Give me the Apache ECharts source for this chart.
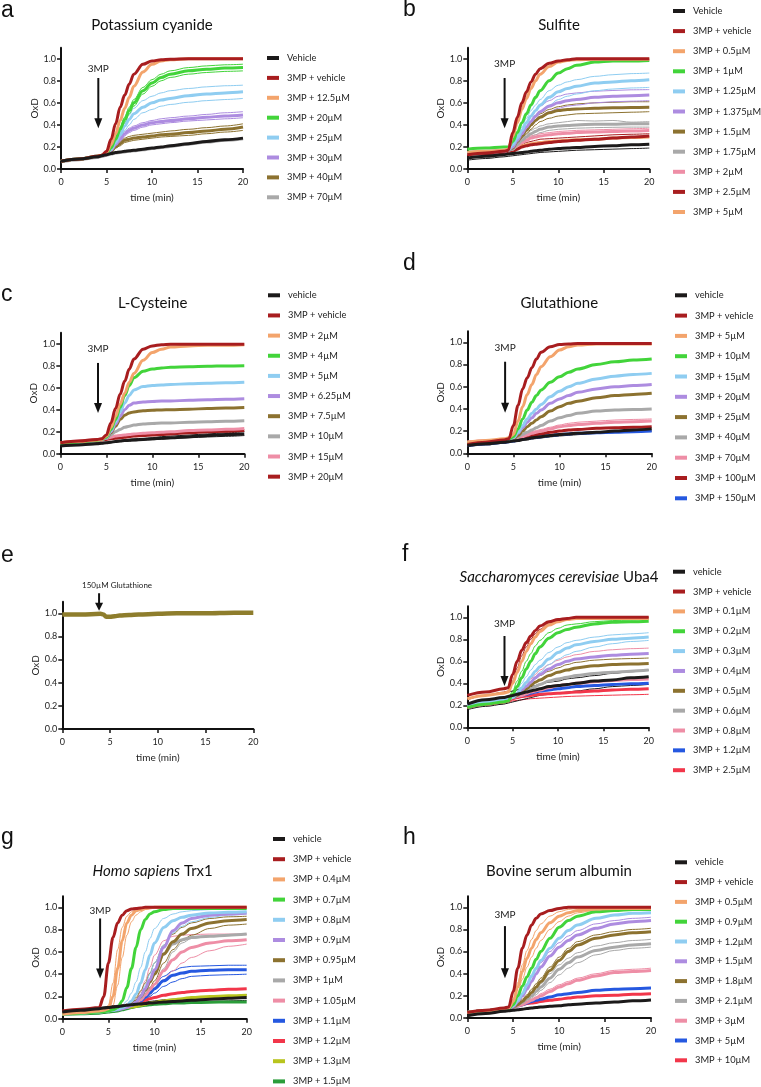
<!DOCTYPE html>
<html><head><meta charset="utf-8">
<script src="https://cdn.jsdelivr.net/npm/echarts@6/dist/echarts.min.js"></script>
<style>html,body{margin:0;padding:0;background:#fff}#c{width:761px;height:1087px}</style>
</head><body><div id="c"></div><script>
// ---------- time grids and ticks ----------
const T  = [0,2,4,4.5,5,5.5,6,6.5,7,7.5,8,9,10,11,12,14,16,18,20];
const TG = [0,2,4,4.5,5,5.5,6,6.5,7,7.5,8,8.5,9,9.5,10,11,12,13,14,16,18,20];
const TE = [0,2,4,4.3,4.6,5,5.5,6,7,8,10,12,15,18,20];
const X_TICKS = [0,5,10,15,20];
const Y_TICKS = [0,0.2,0.4,0.6,0.8,1.0];

// ---------- colours ----------
const BLK='#1c1a1a', DRED='#a81d1f', SALMON='#f3a46c', GREEN='#42d43a', LBLUE='#8fcdf1',
      PURPLE='#ad8ce0', BROWN='#8c7230', GREY='#a9a9a9', PINK='#ee8ea6', BLUE='#2558e0',
      RED='#f2364a', YGREEN='#b8c41e', DGREEN='#2b9d3a', EBROWN='#8e7d2c';

// ---------- a: Potassium cyanide ----------
const A_VEH=[0.07,0.09,0.11,0.12,0.13,0.14,0.15,0.155,0.16,0.165,0.17,0.18,0.19,0.2,0.21,0.23,0.25,0.265,0.28];
const A_70=[0.065,0.085,0.105,0.115,0.125,0.135,0.145,0.15,0.155,0.16,0.165,0.175,0.185,0.195,0.205,0.225,0.245,0.26,0.275];
const A_V3=[0.07,0.09,0.115,0.125,0.16,0.27,0.41,0.56,0.67,0.77,0.86,0.95,0.98,0.99,0.995,1,1,1,1];
const A_125=[0.07,0.09,0.115,0.125,0.15,0.22,0.32,0.44,0.55,0.65,0.75,0.88,0.95,0.98,0.99,1,1,1,1];
const A_20=[0.07,0.09,0.115,0.125,0.14,0.19,0.27,0.36,0.45,0.53,0.6,0.71,0.78,0.83,0.86,0.89,0.905,0.915,0.92];
const A_20_HI=[0.07,0.09,0.115,0.125,0.145,0.2,0.29,0.38,0.47,0.56,0.63,0.74,0.81,0.86,0.89,0.92,0.935,0.945,0.95];
const A_20_LO=[0.07,0.09,0.115,0.125,0.135,0.18,0.25,0.33,0.42,0.5,0.57,0.68,0.75,0.8,0.83,0.86,0.875,0.885,0.89];
const A_25=[0.07,0.09,0.115,0.125,0.14,0.18,0.24,0.31,0.39,0.45,0.5,0.56,0.6,0.625,0.64,0.665,0.68,0.69,0.7];
const A_25_HI=[0.07,0.09,0.115,0.125,0.14,0.19,0.26,0.34,0.42,0.49,0.55,0.62,0.66,0.69,0.71,0.73,0.745,0.755,0.76];
const A_25_LO=[0.07,0.09,0.115,0.125,0.135,0.17,0.22,0.28,0.35,0.4,0.45,0.51,0.54,0.57,0.585,0.605,0.62,0.63,0.64];
const A_30=[0.07,0.09,0.115,0.125,0.13,0.17,0.22,0.27,0.32,0.35,0.37,0.4,0.42,0.43,0.44,0.455,0.47,0.48,0.49];
const A_30_HI=[0.07,0.09,0.115,0.125,0.135,0.18,0.24,0.29,0.34,0.37,0.39,0.42,0.44,0.455,0.465,0.48,0.495,0.51,0.52];
const A_30_LO=[0.07,0.09,0.115,0.125,0.13,0.16,0.21,0.25,0.3,0.33,0.35,0.38,0.4,0.41,0.42,0.435,0.445,0.455,0.465];
const A_40=[0.07,0.09,0.115,0.125,0.13,0.16,0.2,0.23,0.26,0.27,0.28,0.29,0.3,0.31,0.315,0.33,0.345,0.36,0.38];
const A_40_HI=[0.07,0.09,0.115,0.125,0.13,0.17,0.21,0.25,0.28,0.295,0.305,0.315,0.325,0.335,0.345,0.36,0.375,0.39,0.41];
const A_40_LO=[0.07,0.09,0.115,0.125,0.13,0.15,0.19,0.21,0.24,0.25,0.26,0.27,0.28,0.29,0.295,0.305,0.32,0.335,0.35];

// ---------- b: Sulfite ----------
const B_VEH=[0.1,0.115,0.13,0.135,0.14,0.145,0.15,0.155,0.16,0.165,0.17,0.18,0.185,0.19,0.195,0.205,0.21,0.22,0.225];
const B_VEH_LO=[0.08,0.095,0.11,0.115,0.12,0.125,0.13,0.135,0.14,0.145,0.15,0.155,0.16,0.165,0.17,0.175,0.18,0.185,0.19];
const B_V3=[0.13,0.145,0.16,0.17,0.33,0.47,0.6,0.7,0.79,0.86,0.91,0.96,0.98,0.99,1,1,1,1,1];
const B_05=[0.15,0.16,0.17,0.18,0.3,0.42,0.54,0.64,0.73,0.8,0.86,0.93,0.97,0.985,0.99,0.995,0.995,0.995,0.995];
const B_1=[0.18,0.19,0.2,0.2,0.25,0.33,0.42,0.5,0.58,0.65,0.71,0.8,0.87,0.91,0.94,0.97,0.98,0.98,0.985];
const B_125=[0.15,0.16,0.17,0.17,0.22,0.28,0.35,0.42,0.48,0.53,0.58,0.65,0.7,0.73,0.75,0.78,0.79,0.8,0.81];
const B_125_HI=[0.15,0.16,0.17,0.17,0.23,0.3,0.38,0.46,0.53,0.58,0.63,0.71,0.76,0.79,0.81,0.84,0.855,0.865,0.87];
const B_125_LO=[0.15,0.16,0.17,0.17,0.21,0.26,0.32,0.38,0.43,0.48,0.52,0.58,0.63,0.66,0.68,0.71,0.725,0.735,0.74];
const B_1375=[0.14,0.15,0.16,0.17,0.2,0.26,0.32,0.38,0.43,0.48,0.52,0.57,0.6,0.62,0.63,0.65,0.66,0.665,0.67];
const B_1375_HI=[0.14,0.15,0.16,0.17,0.21,0.28,0.35,0.42,0.48,0.53,0.57,0.62,0.66,0.68,0.69,0.705,0.712,0.718,0.72];
const B_1375_LO=[0.14,0.15,0.16,0.17,0.19,0.24,0.3,0.35,0.4,0.44,0.48,0.52,0.55,0.57,0.58,0.6,0.61,0.615,0.62];
const B_15=[0.14,0.15,0.16,0.17,0.19,0.25,0.3,0.35,0.4,0.44,0.47,0.51,0.53,0.54,0.545,0.55,0.555,0.558,0.56];
const B_15_HI=[0.14,0.15,0.16,0.17,0.2,0.26,0.32,0.38,0.43,0.47,0.5,0.54,0.565,0.58,0.59,0.6,0.605,0.61,0.61];
const B_15_LO=[0.14,0.15,0.16,0.17,0.18,0.23,0.28,0.32,0.36,0.4,0.43,0.46,0.48,0.49,0.5,0.505,0.51,0.515,0.52];
const B_175=[0.14,0.15,0.16,0.17,0.18,0.22,0.26,0.29,0.32,0.34,0.36,0.38,0.39,0.395,0.4,0.405,0.405,0.41,0.41];
const B_175_HI=[0.14,0.15,0.16,0.17,0.19,0.23,0.28,0.31,0.35,0.37,0.39,0.41,0.42,0.43,0.44,0.435,0.44,0.425,0.43];
const B_175_LO=[0.14,0.15,0.16,0.17,0.17,0.2,0.23,0.26,0.29,0.31,0.33,0.35,0.36,0.365,0.37,0.375,0.378,0.38,0.38];
const B_2=[0.14,0.15,0.16,0.17,0.18,0.21,0.24,0.26,0.28,0.29,0.3,0.31,0.32,0.325,0.33,0.335,0.34,0.345,0.35];
const B_2_HI=[0.14,0.15,0.16,0.17,0.18,0.22,0.26,0.28,0.3,0.31,0.32,0.33,0.34,0.345,0.35,0.355,0.36,0.365,0.37];
const B_25=[0.13,0.14,0.15,0.16,0.16,0.18,0.2,0.21,0.22,0.225,0.23,0.24,0.25,0.255,0.26,0.27,0.28,0.29,0.3];
const B_25_HI=[0.13,0.14,0.15,0.16,0.17,0.2,0.22,0.24,0.25,0.26,0.27,0.275,0.28,0.285,0.29,0.3,0.31,0.315,0.32];
const B_5=[0.14,0.15,0.16,0.17,0.17,0.19,0.21,0.22,0.23,0.235,0.24,0.25,0.255,0.26,0.265,0.27,0.28,0.285,0.29];

// ---------- c: L-Cysteine ----------
const C_VEH=[0.07,0.08,0.09,0.095,0.1,0.105,0.11,0.115,0.12,0.122,0.125,0.13,0.135,0.14,0.145,0.155,0.165,0.175,0.18];
const C_VEH_HI=[0.08,0.09,0.1,0.1,0.105,0.11,0.115,0.12,0.125,0.13,0.135,0.14,0.145,0.155,0.16,0.17,0.18,0.19,0.2];
const C_VEH_LO=[0.065,0.075,0.085,0.09,0.095,0.1,0.105,0.11,0.112,0.115,0.118,0.122,0.127,0.132,0.137,0.145,0.152,0.158,0.165];
const C_V3=[0.1,0.115,0.13,0.135,0.17,0.28,0.41,0.54,0.66,0.77,0.86,0.95,0.98,0.99,0.995,0.995,0.995,0.995,0.995];
const C_2=[0.1,0.11,0.125,0.13,0.16,0.24,0.34,0.45,0.55,0.65,0.73,0.85,0.92,0.95,0.97,0.98,0.985,0.985,0.99];
const C_4=[0.09,0.105,0.12,0.13,0.15,0.22,0.31,0.42,0.53,0.62,0.69,0.75,0.77,0.78,0.785,0.79,0.795,0.798,0.8];
const C_5=[0.09,0.105,0.12,0.13,0.15,0.21,0.29,0.38,0.46,0.53,0.58,0.61,0.62,0.625,0.63,0.635,0.64,0.645,0.65];
const C_625=[0.09,0.105,0.12,0.13,0.14,0.2,0.27,0.34,0.4,0.44,0.46,0.47,0.475,0.478,0.48,0.485,0.49,0.495,0.5];
const C_75=[0.09,0.105,0.12,0.13,0.14,0.19,0.25,0.31,0.35,0.37,0.38,0.39,0.395,0.398,0.4,0.405,0.41,0.415,0.42];
const C_10=[0.09,0.105,0.12,0.13,0.14,0.17,0.2,0.22,0.24,0.25,0.26,0.27,0.275,0.278,0.28,0.285,0.29,0.295,0.3];
const C_15=[0.1,0.115,0.13,0.135,0.14,0.15,0.16,0.165,0.17,0.175,0.18,0.185,0.19,0.195,0.2,0.21,0.215,0.222,0.23];
const C_20=[0.095,0.11,0.12,0.125,0.13,0.135,0.14,0.145,0.15,0.155,0.16,0.165,0.17,0.175,0.18,0.19,0.2,0.205,0.21];

// ---------- d: Glutathione ----------
const D_VEH=[0.07,0.085,0.1,0.105,0.11,0.115,0.125,0.13,0.14,0.145,0.15,0.16,0.17,0.175,0.18,0.19,0.2,0.21,0.22];
const D_VEH_LO=[0.06,0.075,0.09,0.1,0.105,0.11,0.115,0.12,0.128,0.133,0.138,0.148,0.156,0.162,0.168,0.178,0.186,0.193,0.2];
const D_V3=[0.08,0.1,0.12,0.13,0.25,0.43,0.58,0.68,0.77,0.85,0.91,0.96,0.98,0.985,0.99,0.99,0.99,0.99,0.99];
const D_5=[0.1,0.115,0.13,0.14,0.17,0.29,0.42,0.53,0.62,0.71,0.78,0.87,0.93,0.96,0.975,0.985,0.985,0.985,0.985];
const D_10=[0.09,0.105,0.12,0.13,0.15,0.22,0.31,0.39,0.46,0.52,0.57,0.64,0.69,0.73,0.76,0.8,0.825,0.84,0.85];
const D_15=[0.09,0.105,0.12,0.13,0.14,0.19,0.25,0.31,0.36,0.4,0.44,0.51,0.56,0.6,0.63,0.67,0.695,0.71,0.72];
const D_20=[0.09,0.105,0.12,0.13,0.14,0.18,0.23,0.28,0.32,0.36,0.39,0.45,0.49,0.52,0.55,0.58,0.6,0.61,0.62];
const D_25=[0.09,0.105,0.12,0.13,0.13,0.16,0.2,0.24,0.27,0.3,0.33,0.38,0.42,0.45,0.47,0.5,0.52,0.53,0.54];
const D_40=[0.09,0.105,0.12,0.125,0.13,0.15,0.17,0.19,0.21,0.23,0.25,0.29,0.32,0.34,0.36,0.38,0.39,0.395,0.4];
const D_70=[0.1,0.11,0.12,0.125,0.13,0.14,0.15,0.165,0.18,0.19,0.2,0.22,0.24,0.25,0.26,0.27,0.28,0.285,0.29];
const D_70_HI=[0.11,0.12,0.13,0.135,0.14,0.15,0.165,0.18,0.195,0.205,0.215,0.235,0.255,0.27,0.28,0.29,0.3,0.305,0.31];
const D_100=[0.08,0.095,0.11,0.115,0.12,0.13,0.14,0.15,0.16,0.17,0.175,0.19,0.2,0.21,0.215,0.225,0.23,0.235,0.24];
const D_150=[0.07,0.085,0.1,0.105,0.11,0.12,0.13,0.135,0.14,0.145,0.15,0.16,0.17,0.175,0.18,0.185,0.19,0.195,0.2];

// ---------- e: enzyme + 150 µM glutathione ----------
const E_VAL=[0.99,0.99,0.995,0.99,0.97,0.97,0.975,0.98,0.985,0.99,0.995,1,1,1.005,1.005];

// ---------- f: Saccharomyces cerevisiae Uba4 ----------
const F_VEH=[0.21,0.25,0.27,0.28,0.29,0.3,0.31,0.32,0.33,0.34,0.35,0.37,0.38,0.39,0.4,0.42,0.43,0.45,0.46];
const F_VEH_HI=[0.25,0.29,0.31,0.32,0.33,0.34,0.35,0.36,0.37,0.38,0.39,0.41,0.42,0.44,0.45,0.47,0.49,0.505,0.52];
const F_VEH_LO=[0.16,0.19,0.21,0.22,0.23,0.24,0.25,0.26,0.27,0.28,0.29,0.3,0.31,0.32,0.33,0.35,0.37,0.38,0.39];
const F_V3=[0.29,0.32,0.35,0.36,0.48,0.6,0.7,0.77,0.83,0.88,0.92,0.96,0.98,0.99,1,1,1,1,1];
const F_V3_LO=[0.26,0.29,0.32,0.33,0.42,0.54,0.65,0.73,0.8,0.85,0.89,0.95,0.97,0.98,0.99,0.995,1,1,1];
const F_01=[0.26,0.29,0.31,0.32,0.4,0.5,0.6,0.69,0.76,0.82,0.87,0.93,0.96,0.98,0.99,0.99,0.99,0.99,0.99];
const F_02=[0.18,0.21,0.23,0.24,0.3,0.37,0.45,0.53,0.6,0.67,0.73,0.81,0.86,0.89,0.91,0.94,0.955,0.96,0.965];
const F_02_HI=[0.2,0.23,0.25,0.26,0.33,0.42,0.51,0.6,0.67,0.74,0.79,0.86,0.9,0.93,0.94,0.96,0.97,0.975,0.98];
const F_03=[0.2,0.23,0.25,0.26,0.27,0.31,0.36,0.41,0.46,0.51,0.55,0.62,0.68,0.72,0.75,0.78,0.8,0.81,0.82];
const F_03_HI=[0.21,0.24,0.26,0.27,0.29,0.34,0.4,0.46,0.52,0.57,0.61,0.68,0.73,0.77,0.79,0.82,0.84,0.85,0.86];
const F_03_LO=[0.2,0.23,0.25,0.26,0.27,0.3,0.34,0.38,0.42,0.46,0.5,0.57,0.62,0.66,0.69,0.73,0.76,0.78,0.79];
const F_04=[0.2,0.23,0.25,0.26,0.27,0.3,0.34,0.37,0.41,0.45,0.48,0.53,0.57,0.6,0.62,0.64,0.655,0.665,0.67];
const F_05=[0.2,0.23,0.25,0.26,0.27,0.29,0.32,0.35,0.38,0.41,0.43,0.47,0.5,0.52,0.54,0.56,0.57,0.575,0.58];
const F_05_HI=[0.21,0.24,0.26,0.27,0.28,0.31,0.34,0.38,0.41,0.44,0.47,0.51,0.54,0.57,0.59,0.61,0.62,0.625,0.63];
const F_06=[0.2,0.23,0.25,0.26,0.28,0.3,0.31,0.33,0.35,0.37,0.39,0.42,0.44,0.455,0.47,0.49,0.5,0.51,0.52];
const F_08=[0.2,0.23,0.25,0.26,0.27,0.28,0.29,0.305,0.32,0.33,0.34,0.36,0.38,0.39,0.4,0.415,0.425,0.435,0.44];
const F_08_HI=[0.2,0.23,0.25,0.26,0.28,0.32,0.36,0.4,0.44,0.48,0.52,0.57,0.61,0.64,0.66,0.69,0.705,0.715,0.72];
const F_12=[0.2,0.23,0.25,0.26,0.27,0.28,0.29,0.3,0.31,0.32,0.33,0.34,0.35,0.36,0.37,0.38,0.39,0.395,0.4];
const F_25=[0.18,0.21,0.23,0.24,0.26,0.27,0.28,0.285,0.29,0.295,0.3,0.305,0.31,0.315,0.32,0.33,0.34,0.345,0.35];
const F_25_LO=[0.17,0.2,0.22,0.23,0.24,0.245,0.25,0.255,0.26,0.262,0.265,0.27,0.275,0.28,0.283,0.288,0.292,0.296,0.3];

// ---------- g: Homo sapiens Trx1 (times TG) ----------
const G_VEH=[0.06,0.075,0.09,0.095,0.1,0.105,0.11,0.115,0.12,0.125,0.13,0.133,0.136,0.14,0.143,0.15,0.155,0.16,0.165,0.175,0.183,0.19];
const G_VEH_HI=[0.07,0.085,0.1,0.105,0.11,0.115,0.12,0.125,0.13,0.135,0.14,0.145,0.15,0.155,0.16,0.17,0.175,0.18,0.185,0.195,0.205,0.215];
const G_VEH_LO=[0.05,0.065,0.08,0.085,0.09,0.095,0.1,0.105,0.11,0.115,0.12,0.123,0.126,0.13,0.133,0.138,0.142,0.146,0.15,0.155,0.16,0.165];
const G_V3=[0.07,0.085,0.1,0.2,0.5,0.73,0.86,0.93,0.97,0.985,0.99,0.995,1,1,1,1,1,1,1,1,1,1];
const G_04=[0.04,0.055,0.07,0.075,0.09,0.2,0.45,0.7,0.86,0.93,0.97,0.98,0.99,0.995,1,1,1,1,1,1,1,1];
const G_04_HI=[0.05,0.065,0.08,0.085,0.12,0.32,0.62,0.82,0.92,0.96,0.98,0.99,1,1,1,1,1,1,1,1,1,1];
const G_04_LO=[0.04,0.055,0.07,0.075,0.08,0.12,0.3,0.55,0.75,0.87,0.93,0.96,0.98,0.99,0.995,1,1,1,1,1,1,1];
const G_07=[0.04,0.05,0.06,0.065,0.07,0.08,0.1,0.16,0.28,0.45,0.64,0.8,0.89,0.94,0.96,0.98,0.99,0.99,0.99,0.99,0.99,0.99];
const G_08=[0.04,0.05,0.06,0.065,0.07,0.075,0.085,0.1,0.12,0.16,0.22,0.32,0.44,0.57,0.68,0.82,0.88,0.91,0.93,0.95,0.955,0.96];
const G_08_HI=[0.04,0.05,0.06,0.065,0.07,0.08,0.095,0.12,0.16,0.23,0.33,0.46,0.6,0.72,0.81,0.9,0.94,0.96,0.97,0.98,0.985,0.99];
const G_08_LO=[0.04,0.05,0.06,0.065,0.07,0.075,0.08,0.09,0.1,0.12,0.16,0.22,0.3,0.4,0.5,0.66,0.77,0.83,0.87,0.91,0.93,0.94];
const G_09=[0.04,0.05,0.06,0.065,0.07,0.075,0.08,0.09,0.1,0.12,0.15,0.2,0.27,0.35,0.44,0.64,0.79,0.86,0.9,0.93,0.94,0.95];
const G_095=[0.05,0.06,0.07,0.075,0.08,0.085,0.09,0.1,0.11,0.13,0.16,0.2,0.26,0.33,0.4,0.58,0.69,0.76,0.81,0.86,0.88,0.89];
const G_095_HI=[0.05,0.06,0.07,0.075,0.08,0.085,0.09,0.1,0.12,0.15,0.19,0.25,0.32,0.41,0.5,0.66,0.76,0.82,0.86,0.9,0.915,0.92];
const G_095_LO=[0.05,0.06,0.07,0.075,0.08,0.085,0.09,0.1,0.11,0.12,0.14,0.17,0.22,0.28,0.34,0.5,0.62,0.7,0.75,0.81,0.84,0.85];
const G_1=[0.05,0.06,0.07,0.075,0.08,0.085,0.09,0.1,0.11,0.12,0.15,0.19,0.25,0.33,0.42,0.58,0.67,0.71,0.73,0.74,0.75,0.76];
const G_1_LO=[0.05,0.06,0.07,0.075,0.08,0.085,0.09,0.095,0.1,0.11,0.12,0.14,0.17,0.21,0.27,0.45,0.6,0.68,0.72,0.74,0.75,0.755];
const G_105=[0.05,0.06,0.07,0.075,0.08,0.085,0.09,0.1,0.11,0.12,0.14,0.17,0.21,0.26,0.31,0.43,0.53,0.6,0.64,0.68,0.7,0.71];
const G_105_HI=[0.05,0.06,0.07,0.075,0.08,0.085,0.09,0.1,0.11,0.13,0.17,0.24,0.34,0.46,0.57,0.7,0.74,0.75,0.755,0.76,0.76,0.76];
const G_105_LO=[0.05,0.06,0.07,0.075,0.08,0.085,0.09,0.095,0.1,0.11,0.13,0.15,0.18,0.22,0.26,0.35,0.43,0.5,0.55,0.61,0.65,0.67];
const G_11=[0.05,0.06,0.07,0.075,0.08,0.085,0.09,0.1,0.11,0.12,0.14,0.16,0.19,0.23,0.27,0.34,0.39,0.41,0.425,0.435,0.44,0.44];
const G_11_HI=[0.05,0.06,0.07,0.075,0.08,0.085,0.09,0.1,0.11,0.13,0.15,0.18,0.22,0.27,0.31,0.38,0.43,0.46,0.47,0.475,0.48,0.48];
const G_11_LO=[0.05,0.06,0.07,0.075,0.08,0.085,0.09,0.1,0.11,0.12,0.13,0.15,0.17,0.2,0.23,0.29,0.33,0.36,0.38,0.39,0.395,0.4];
const G_12=[0.06,0.07,0.08,0.085,0.09,0.1,0.105,0.11,0.12,0.13,0.14,0.15,0.165,0.18,0.19,0.21,0.225,0.235,0.245,0.255,0.265,0.27];
const G_13=[0.05,0.06,0.07,0.075,0.08,0.085,0.09,0.095,0.1,0.105,0.11,0.12,0.13,0.14,0.145,0.16,0.17,0.18,0.19,0.2,0.205,0.21];
const G_15=[0.04,0.045,0.05,0.055,0.06,0.065,0.07,0.08,0.09,0.1,0.11,0.115,0.12,0.125,0.13,0.135,0.14,0.142,0.145,0.148,0.15,0.15];

// ---------- h: Bovine serum albumin ----------
const H_VEH=[0.02,0.04,0.06,0.065,0.07,0.075,0.08,0.085,0.09,0.095,0.1,0.105,0.11,0.12,0.125,0.135,0.145,0.155,0.163];
const H_V3=[0.05,0.07,0.09,0.1,0.24,0.45,0.63,0.75,0.84,0.9,0.94,0.97,0.99,1,1,1,1,1,1];
const H_05=[0.05,0.065,0.08,0.09,0.15,0.28,0.42,0.54,0.63,0.71,0.77,0.86,0.92,0.95,0.97,0.985,0.99,0.99,0.99];
const H_05_HI=[0.05,0.065,0.08,0.09,0.17,0.32,0.48,0.61,0.71,0.79,0.85,0.92,0.96,0.98,0.99,0.99,0.99,0.99,0.99];
const H_05_LO=[0.05,0.065,0.08,0.09,0.13,0.23,0.35,0.46,0.55,0.63,0.7,0.8,0.87,0.92,0.95,0.975,0.985,0.99,0.99];
const H_09=[0.05,0.065,0.08,0.085,0.12,0.2,0.29,0.37,0.45,0.53,0.6,0.72,0.82,0.88,0.92,0.96,0.97,0.98,0.98];
const H_12=[0.05,0.065,0.08,0.085,0.11,0.16,0.22,0.3,0.38,0.45,0.52,0.63,0.72,0.79,0.84,0.9,0.93,0.945,0.95];
const H_15=[0.05,0.065,0.08,0.085,0.1,0.15,0.2,0.26,0.33,0.4,0.46,0.56,0.64,0.7,0.75,0.81,0.85,0.87,0.88];
const H_15_HI=[0.05,0.065,0.08,0.085,0.1,0.16,0.22,0.29,0.37,0.44,0.5,0.6,0.68,0.74,0.79,0.85,0.88,0.9,0.91];
const H_18=[0.05,0.065,0.08,0.085,0.1,0.12,0.15,0.19,0.23,0.28,0.33,0.43,0.52,0.6,0.66,0.72,0.75,0.77,0.78];
const H_18_HI=[0.05,0.065,0.08,0.085,0.1,0.13,0.17,0.21,0.26,0.31,0.36,0.46,0.55,0.63,0.69,0.75,0.78,0.8,0.81];
const H_21=[0.05,0.065,0.08,0.085,0.1,0.12,0.14,0.17,0.2,0.24,0.28,0.36,0.44,0.5,0.55,0.61,0.64,0.66,0.67];
const H_21_HI=[0.05,0.065,0.08,0.085,0.1,0.12,0.15,0.18,0.22,0.26,0.31,0.4,0.48,0.54,0.59,0.65,0.68,0.7,0.71];
const H_21_LO=[0.05,0.065,0.08,0.085,0.1,0.11,0.13,0.15,0.18,0.21,0.25,0.32,0.39,0.45,0.5,0.57,0.61,0.63,0.64];
const H_3=[0.05,0.065,0.08,0.085,0.1,0.11,0.12,0.14,0.16,0.18,0.2,0.24,0.28,0.31,0.34,0.38,0.41,0.42,0.43];
const H_3_HI=[0.05,0.065,0.08,0.085,0.1,0.11,0.13,0.15,0.17,0.19,0.22,0.26,0.3,0.33,0.36,0.4,0.43,0.44,0.45];
const H_5=[0.05,0.065,0.08,0.085,0.1,0.11,0.12,0.135,0.15,0.16,0.17,0.19,0.21,0.22,0.23,0.25,0.26,0.265,0.27];
const H_10=[0.05,0.065,0.08,0.09,0.1,0.11,0.12,0.13,0.135,0.14,0.15,0.16,0.17,0.18,0.19,0.2,0.205,0.215,0.22];

// ---------- panel composition: [legend label, colour, mean, replicates] ----------
const PANELS = [
 {key:'a', time:T, title:'Potassium cyanide', conds:[
  ['Vehicle',BLK,A_VEH,[]],['3MP + vehicle',DRED,A_V3,[]],['3MP + 12.5µM',SALMON,A_125,[]],
  ['3MP + 20µM',GREEN,A_20,[A_20_HI,A_20_LO]],['3MP + 25µM',LBLUE,A_25,[A_25_HI,A_25_LO]],
  ['3MP + 30µM',PURPLE,A_30,[A_30_HI,A_30_LO]],['3MP + 40µM',BROWN,A_40,[A_40_HI,A_40_LO]],['3MP + 70µM',GREY,A_70,[]]]},
 {key:'b', time:T, title:'Sulfite', conds:[
  ['Vehicle',BLK,B_VEH,[B_VEH_LO]],['3MP + vehicle',DRED,B_V3,[]],['3MP + 0.5µM',SALMON,B_05,[]],
  ['3MP + 1µM',GREEN,B_1,[]],['3MP + 1.25µM',LBLUE,B_125,[B_125_HI,B_125_LO]],
  ['3MP + 1.375µM',PURPLE,B_1375,[B_1375_HI,B_1375_LO]],['3MP + 1.5µM',BROWN,B_15,[B_15_HI,B_15_LO]],
  ['3MP + 1.75µM',GREY,B_175,[B_175_HI,B_175_LO]],['3MP + 2µM',PINK,B_2,[B_2_HI]],
  ['3MP + 2.5µM',DRED,B_25,[B_25_HI]],['3MP + 5µM',SALMON,B_5,[]]]},
 {key:'c', time:T, title:'L-Cysteine', conds:[
  ['vehicle',BLK,C_VEH,[C_VEH_HI,C_VEH_LO]],['3MP + vehicle',DRED,C_V3,[]],['3MP + 2µM',SALMON,C_2,[]],
  ['3MP + 4µM',GREEN,C_4,[]],['3MP + 5µM',LBLUE,C_5,[]],['3MP + 6.25µM',PURPLE,C_625,[]],
  ['3MP + 7.5µM',BROWN,C_75,[]],['3MP + 10µM',GREY,C_10,[]],['3MP + 15µM',PINK,C_15,[]],['3MP + 20µM',DRED,C_20,[]]]},
 {key:'d', time:T, title:'Glutathione', conds:[
  ['vehicle',BLK,D_VEH,[D_VEH_LO]],['3MP + vehicle',DRED,D_V3,[]],['3MP + 5µM',SALMON,D_5,[]],
  ['3MP + 10µM',GREEN,D_10,[]],['3MP + 15µM',LBLUE,D_15,[]],['3MP + 20µM',PURPLE,D_20,[]],
  ['3MP + 25µM',BROWN,D_25,[]],['3MP + 40µM',GREY,D_40,[]],['3MP + 70µM',PINK,D_70,[D_70_HI]],
  ['3MP + 100µM',DRED,D_100,[]],['3MP + 150µM',BLUE,D_150,[]]]},
 {key:'e', time:TE, title:'', conds:[['150µM Glutathione',EBROWN,E_VAL,[]]]},
 {key:'f', time:T, title:'{i|Saccharomyces cerevisiae} Uba4', conds:[
  ['vehicle',BLK,F_VEH,[F_VEH_HI,F_VEH_LO]],['3MP + vehicle',DRED,F_V3,[F_V3_LO]],['3MP + 0.1µM',SALMON,F_01,[]],
  ['3MP + 0.2µM',GREEN,F_02,[F_02_HI]],['3MP + 0.3µM',LBLUE,F_03,[F_03_HI,F_03_LO]],['3MP + 0.4µM',PURPLE,F_04,[]],
  ['3MP + 0.5µM',BROWN,F_05,[F_05_HI]],['3MP + 0.6µM',GREY,F_06,[]],['3MP + 0.8µM',PINK,F_08,[F_08_HI]],
  ['3MP + 1.2µM',BLUE,F_12,[]],['3MP + 2.5µM',RED,F_25,[F_25_LO]]]},
 {key:'g', time:TG, title:'{i|Homo sapiens} Trx1', conds:[
  ['vehicle',BLK,G_VEH,[G_VEH_HI,G_VEH_LO]],['3MP + vehicle',DRED,G_V3,[]],['3MP + 0.4µM',SALMON,G_04,[G_04_HI,G_04_LO]],
  ['3MP + 0.7µM',GREEN,G_07,[]],['3MP + 0.8µM',LBLUE,G_08,[G_08_HI,G_08_LO]],['3MP + 0.9µM',PURPLE,G_09,[]],
  ['3MP + 0.95µM',BROWN,G_095,[G_095_HI,G_095_LO]],['3MP + 1µM',GREY,G_1,[G_1_LO]],
  ['3MP + 1.05µM',PINK,G_105,[G_105_HI,G_105_LO]],['3MP + 1.1µM',BLUE,G_11,[G_11_HI,G_11_LO]],
  ['3MP + 1.2µM',RED,G_12,[]],['3MP + 1.3µM',YGREEN,G_13,[]],['3MP + 1.5µM',DGREEN,G_15,[]]]},
 {key:'h', time:T, title:'Bovine serum albumin', conds:[
  ['vehicle',BLK,H_VEH,[]],['3MP + vehicle',DRED,H_V3,[]],['3MP + 0.5µM',SALMON,H_05,[H_05_HI,H_05_LO]],
  ['3MP + 0.9µM',GREEN,H_09,[]],['3MP + 1.2µM',LBLUE,H_12,[]],['3MP + 1.5µM',PURPLE,H_15,[H_15_HI]],
  ['3MP + 1.8µM',BROWN,H_18,[H_18_HI]],['3MP + 2.1µM',GREY,H_21,[H_21_HI,H_21_LO]],['3MP + 3µM',PINK,H_3,[H_3_HI]],
  ['3MP + 5µM',BLUE,H_5,[]],['3MP + 10µM',RED,H_10,[]]]}
];

// ---------- layout (pixels): legend = [left, first row centre, row spacing] ----------
const LAYOUT = {
 a:{grid:[61,47.7,182,121.3],  legend:[267,58,19.9],   title:[152,25],    letter:[1,12],   arrow:[0.91,0.825,0.37]},
 b:{grid:[467.3,47.7,182,121.3],legend:[673,11,20.1],  title:[559,25],    letter:[403,11], arrow:[0.95,0.825,0.37]},
 c:{grid:[60.3,332.7,184,121], legend:[268,295.3,20.15],title:[152.7,302.7],letter:[1,296], arrow:[0.95,0.825,0.37]},
 d:{grid:[467.3,331.2,184.4,122.1],legend:[675,295.3,20.3],title:[559.3,302.7],letter:[403,265],arrow:[0.95,0.825,0.365]},
 e:{grid:[62.3,601.7,191,127.3], legend:null,          title:null,        letter:[1,557],  arrow:null},
 f:{grid:[467.3,606.3,181.4,121],legend:[673,571.7,19.85],title:[559,577.3],letter:[402,556],arrow:[0.94,0.83,0.375]},
 g:{grid:[62.3,896.2,184.4,122.5],legend:[273,839,20.2], title:[152.7,870.7],letter:[1,839],arrow:[0.97,0.9,0.36]},
 h:{grid:[467.3,896.2,183.7,121.8],legend:[675,862.3,19.8],title:[559,870.7],letter:[403,839],arrow:[0.93,0.83,0.36]}
};
const FONT = 'Lato, "Open Sans", sans-serif';
const TXT = '#222';

const grids=[], xAxes=[], yAxes=[], series=[], legends=[], graphics=[];
function px(key,t,v){const g=LAYOUT[key].grid;return [g[0]+t/20*g[2], g[1]+g[3]*(1-v/1.1)];}

PANELS.forEach((p,gi)=>{
  const L=LAYOUT[p.key], g=L.grid;
  grids.push({left:g[0],top:g[1],width:g[2],height:g[3],containLabel:false});
  xAxes.push({type:'value',gridIndex:gi,min:0,max:20,interval:5,
    axisLine:{show:true,onZero:false,lineStyle:{color:'#111',width:2}},
    axisTick:{show:true,length:4,lineStyle:{color:'#111',width:1.5}},
    axisLabel:{customValues:X_TICKS,fontSize:9,color:TXT,margin:9,fontFamily:FONT},
    splitLine:{show:false},name:'time (min)',nameLocation:'middle',nameGap:24,
    nameTextStyle:{fontSize:10,color:TXT,fontFamily:FONT}});
  yAxes.push({type:'value',gridIndex:gi,min:0,max:1.1,
    axisLine:{show:true,onZero:false,lineStyle:{color:'#111',width:2}},
    axisTick:{show:true,length:4,customValues:Y_TICKS,lineStyle:{color:'#111',width:1.5}},
    axisLabel:{customValues:Y_TICKS,formatter:v=>v.toFixed(1),fontSize:9,color:TXT,margin:5,fontFamily:FONT},
    splitLine:{show:false},name:'OxD',nameLocation:'middle',nameGap:19,nameRotate:90,
    nameTextStyle:{fontSize:10,color:TXT,fontFamily:FONT}});
  const names=[];
  const n=p.conds.length;
  for(let i=n-1;i>=0;i--){
    const [label,color,mean,reps]=p.conds[i];
    reps.forEach(r=>series.push({type:'line',xAxisIndex:gi,yAxisIndex:gi,data:p.time.map((t,k)=>[t,r[k]]),
      showSymbol:false,symbol:'none',smooth:0.35,smoothMonotone:'x',color,lineStyle:{color,width:1},z:2,silent:true}));
  }
  for(let i=n-1;i>=0;i--){
    const [label,color,mean]=p.conds[i];
    const nm=label+'#'+p.key;
    series.push({type:'line',name:nm,xAxisIndex:gi,yAxisIndex:gi,data:p.time.map((t,k)=>[t,mean[k]]),
      showSymbol:false,symbol:'none',smooth:0.35,smoothMonotone:'x',color,
      lineStyle:{color,width:p.key==='e'?4.5:3},z:3,silent:true});
  }
  p.conds.forEach(c=>names.push(c[0]+'#'+p.key));
  if(L.legend){
    legends.push({data:names,left:L.legend[0],top:L.legend[1]-5,height:320,orient:'vertical',icon:'rect',
      itemWidth:12,itemHeight:4,itemGap:L.legend[2]-10,selectedMode:false,padding:0,
      formatter:nm=>nm.split('#')[0],
      textStyle:{fontSize:9.3,lineHeight:10,color:TXT,fontFamily:FONT,padding:[0,0,0,3]}});
  }
  // panel letter
  graphics.push({type:'text',left:L.letter[0],top:L.letter[1]-13,style:{text:p.key,fontSize:23,fill:'#111',fontFamily:'"Liberation Sans", Arial, sans-serif'}});
  // title
  if(L.title){
    graphics.push({type:'text',x:L.title[0],y:L.title[1],style:{text:p.title,fontSize:15,fill:'#111',fontFamily:FONT,
      align:'center',verticalAlign:'middle',rich:{i:{fontStyle:'italic',fontSize:15,fontFamily:FONT,fill:'#111'}}}});
  }
  // 3MP arrow
  if(L.arrow){
    const [lv,v1,v2]=L.arrow;
    const pt=px(p.key,4.1,lv), a1=px(p.key,4.1,v1), a2=px(p.key,4.1,v2);
    graphics.push({type:'text',x:pt[0],y:pt[1],style:{text:'3MP',fontSize:10,fill:TXT,fontFamily:FONT,align:'center',verticalAlign:'middle'}});
    graphics.push({type:'line',shape:{x1:a1[0],y1:a1[1],x2:a2[0],y2:a2[1]-8},style:{stroke:'#111',lineWidth:2}});
    graphics.push({type:'polygon',shape:{points:[[a2[0]-4,a2[1]-10],[a2[0]+4,a2[1]-10],[a2[0],a2[1]]]},style:{fill:'#111'}});
  }
});
// e annotation
(function(){
  const t=px('e',3.85,1.24), a1=px('e',3.85,1.173), a2=px('e',3.85,1.022);
  graphics.push({type:'text',x:t[0]+18,y:t[1],style:{text:'150µM Glutathione',fontSize:8,fill:TXT,fontFamily:FONT,align:'center',verticalAlign:'middle'}});
  graphics.push({type:'line',shape:{x1:a1[0],y1:a1[1],x2:a2[0],y2:a2[1]-6},style:{stroke:'#111',lineWidth:2}});
  graphics.push({type:'polygon',shape:{points:[[a2[0]-4,a2[1]-8],[a2[0]+4,a2[1]-8],[a2[0],a2[1]]]},style:{fill:'#111'}});
})();

const chart=echarts.init(document.getElementById('c'),null,{renderer:'canvas'});
chart.setOption({animation:false,backgroundColor:'#fff',grid:grids,xAxis:xAxes,yAxis:yAxes,series,legend:legends,graphic:graphics});
</script></body></html>
